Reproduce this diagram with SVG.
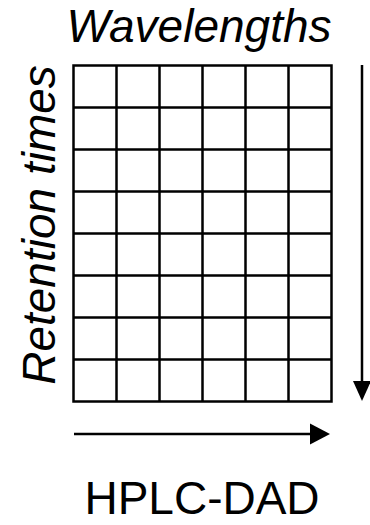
<svg xmlns="http://www.w3.org/2000/svg" width="370" height="525" viewBox="0 0 370 525">
  <style>
    .lbl { font-family: "Liberation Sans", Arial, sans-serif; font-size: 46px; fill: #000; }
    .it { font-style: italic; }
    .grid { fill: none; stroke: #000; stroke-width: 2.5; }
    .axis { stroke: #000; stroke-width: 2.5; fill: none; }
    .head { fill: #000; stroke: none; }
  </style>
  <rect width="370" height="525" fill="#fff"/>
  <g id="title-wavelengths">
    <text class="lbl it" x="199" y="42" text-anchor="middle">Wavelengths</text>
  </g>
  <g id="title-retention">
    <text class="lbl it" transform="translate(55,225) rotate(-90)" text-anchor="middle">Retention times</text>
  </g>
  <g id="matrix">
    <rect class="grid" x="73.5" y="65.5" width="258" height="336"/>
    <path class="grid" d="M116.5 65.5V401.5M159.5 65.5V401.5M202.5 65.5V401.5M245.5 65.5V401.5M288.5 65.5V401.5
      M73.5 107.5H331.5M73.5 149.5H331.5M73.5 191.5H331.5M73.5 233.5H331.5M73.5 275.5H331.5M73.5 317.5H331.5M73.5 359.5H331.5"/>
  </g>
  <g id="connectors">
    <line class="axis" x1="362" y1="65" x2="362" y2="383"/>
    <polygon class="head" points="353,381 371,381 362,401"/>
    <line class="axis" x1="74" y1="434" x2="312" y2="434"/>
    <polygon class="head" points="310,423.5 310,444.5 330,434"/>
  </g>
  <g id="label-hplc">
    <text class="lbl" x="202" y="514" text-anchor="middle">HPLC-DAD</text>
  </g>
</svg>
